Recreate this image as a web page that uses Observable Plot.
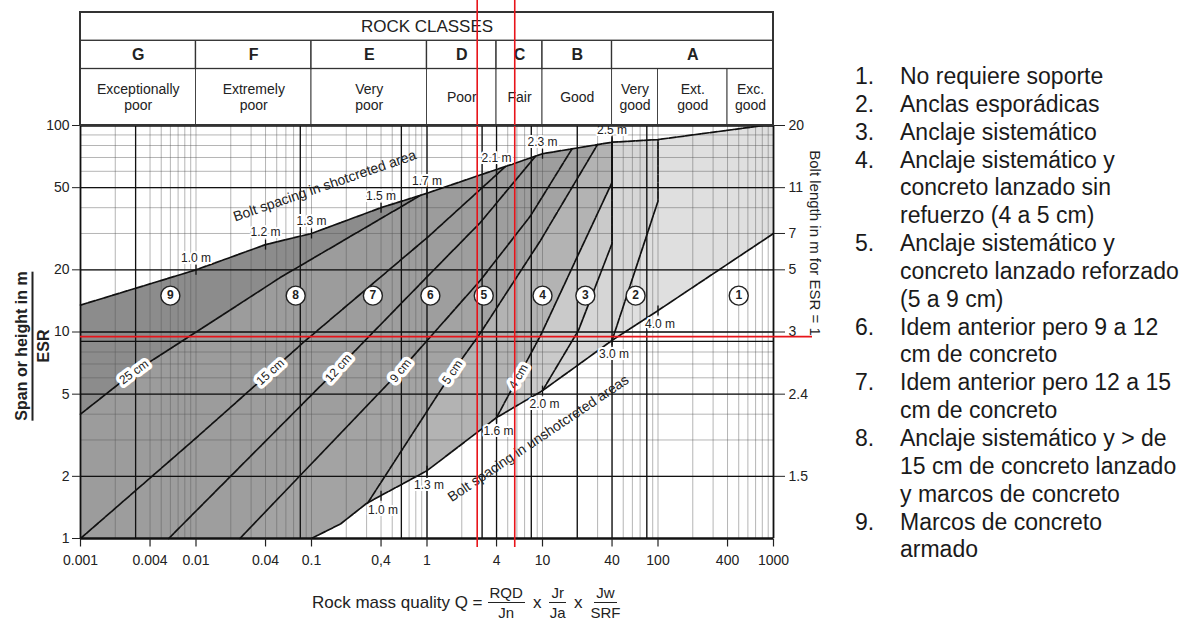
<!DOCTYPE html>
<html><head><meta charset="utf-8">
<script src="https://cdn.jsdelivr.net/npm/d3@7"></script>
<script src="https://cdn.jsdelivr.net/npm/@observablehq/plot@0.6"></script>
<style>
html,body{margin:0;padding:0;background:#fff;}
body{width:1192px;height:625px;position:relative;overflow:hidden;font-family:"Liberation Sans",Arial,sans-serif;color:#222;}
#main,#head{position:absolute;left:0;top:0;}
#ylab{position:absolute;left:32px;top:346px;transform:translate(-50%,-50%) rotate(-90deg);text-align:center;font-weight:bold;font-size:16px;line-height:19px;white-space:nowrap;color:#222;}
#ylab .n{border-bottom:2px solid #222;padding-bottom:1px;}
#y2lab{position:absolute;left:815px;top:243px;transform:translate(-50%,-50%) rotate(90deg);font-size:15px;white-space:nowrap;color:#222;}
#xlab{position:absolute;left:312px;top:583px;display:flex;align-items:center;font-family:"Liberation Sans Narrow","Arial Narrow","Liberation Sans",Arial,sans-serif;font-size:17px;color:#222;white-space:nowrap;}
#xlab .frac{display:inline-flex;flex-direction:column;align-items:center;margin:0 5px;font-size:15px;line-height:19px;}
#xlab .num{border-bottom:1.3px solid #222;padding:0 2px;}
#xlab .op{margin:0 3px;}
#legend{position:absolute;left:855px;top:63px;font-family:"Liberation Sans",Arial,sans-serif;font-size:23px;line-height:27.85px;color:#1a1a1a;}
#legend .it{position:relative;padding-left:45px;white-space:nowrap;}
#legend .k{position:absolute;left:0;top:0;}
</style></head>
<body>
<div id="main"></div>
<div id="head"></div>
<div id="ylab"><div class="n">Span or height in m</div><div>ESR</div></div>
<div id="y2lab">Bolt length in m for ESR = 1</div>
<div id="xlab"><span>Rock mass quality Q =</span><span class="frac"><span class="num">RQD</span><span>Jn</span></span><span class="op">x</span><span class="frac"><span class="num">Jr</span><span>Ja</span></span><span class="op">x</span><span class="frac"><span class="num">Jw</span><span>SRF</span></span></div>
<div id="legend"></div>
<script>
// ---------------- data ----------------
const qTicks = [0.001,0.004,0.01,0.04,0.1,0.4,1,4,10,40,100,400,1000];
const qTickLabels = ["0.001","0.004","0.01","0.04","0.1","0,4","1","4","10","40","100","400","1000"];
const spanTicks = [1,2,5,10,20,50,100];
const boltLenTicks = [100,50,30,20,10,5,2];
const boltLenLabels = ["20","11","7","5","3","2.4","1.5"];

const classBounds = [0.001,0.01,0.1,1,4,10,40,1000];
const classLetters = ["G","F","E","D","C","B","A"];
const qualityBounds = [0.001,0.01,0.1,1,4,10,40,100,400,1000];
const qualityNames = ["Exceptionally\npoor","Extremely\npoor","Very\npoor","Poor","Fair","Good","Very\ngood","Ext.\ngood","Exc.\ngood"];

// boundary lines [Q, span/ESR]
const topLine   = [[0.001,13.5],[0.01,20],[0.04,26.5],[0.1,30],[0.4,40],[1,47],[3,58],[5.5,65],[10,73],[40,83],[100,85.5],[820,100],[1000,100]];
const line25    = [[0.001,4.0],[0.0029,6.4],[0.0095,9.8],[0.054,18.4],[0.88,45.9]];
const line15    = [[0.001,1],[0.0099,3.05],[0.044,6.4],[0.085,8.9],[1.03,29],[4.8,63.4]];
const line12    = [[0.0058,1],[0.171,6.7],[1.03,18.8],[2.9,33.9],[8.7,71]];
const line9     = [[0.024,1],[0.59,6.5],[2.9,17.8],[7.9,36.6],[18,77]];
const line5     = [[0.305,1.48],[1.66,6.4],[2.8,9.6],[9.6,27.7],[30,81]];
const line4     = [[4,3.85],[9.6,9.6],[40,53]];
const line32    = [[10,5.2],[20.5,10.2],[40,26.8]];
const line21    = [[40,9.1],[100,43]];
const lowerLine = [[0.1,1],[0.18,1.18],[0.3,1.48],[1,2.13],[4,3.85],[10,5.2],[40,9.1],[100,12.7],[1000,30]];

const regionNames = ["1","2","3","4","5","6","7","8","9"];
const regionQ = [500,64,23.5,10,3.1,1.07,0.34,0.073,0.006];
const regionSpan = 15;

const thickLabels = ["25 cm","15 cm","12 cm","9 cm","5 cm","4 cm"];
const thickQ = [0.0029,0.044,0.171,0.59,1.66,6.2];
const thickSpan = [6.4,6.4,6.7,6.5,6.4,6.1];
const thickAngle = [-36,-42,-48,-52,-56,-60];

const shotLabels = ["1.0 m","1.2 m","1.3 m","1.5 m","1.7 m","2.1 m","2.3 m","2.5 m"];
const shotQ = [0.01,0.04,0.1,0.4,1,4,10,40];
const shotSpan = [20,26.5,30,40,47,61,73,83];
const unshotLabels = ["1.0 m","1.3 m","1.6 m","2.0 m","3.0 m","4.0 m"];
const unshotQ = [0.4,1,4,10,40,100];
const unshotSpan = [1.61,2.13,3.85,5.2,9.1,12.7];

const redQ = [2.72,5.75];
const redSpan = [9.5];

const blackQ = [0.003,0.08,0.6,1,3,4,8,20,40,80];
const blackSpan = [2,5,9,10,20,50];

const legendItems = [
  ["No requiere soporte"],
  ["Anclas esporádicas"],
  ["Anclaje sistemático"],
  ["Anclaje sistemático y","concreto lanzado sin","refuerzo (4 a 5 cm)"],
  ["Anclaje sistemático y","concreto lanzado reforzado","(5 a 9 cm)"],
  ["Idem anterior pero 9 a 12","cm de concreto"],
  ["Idem anterior pero 12 a 15","cm de concreto"],
  ["Anclaje sistemático y > de","15 cm de concreto lanzado","y marcos de concreto"],
  ["Marcos de concreto","armado"]
];

// ---------------- build ----------------
const FONT_N = '"Liberation Sans Narrow","Arial Narrow","Liberation Sans",Arial,sans-serif';
const P = a => a.map(([q,s]) => ({q, s}));
const topAt = q => topLine.find(d => d[0] === q);
function rightOf(b){
  const last = b[b.length-1][0];
  return P([...b, ...topLine.filter(d => d[0] > last), [1000,1], [b[0][0],1]]);
}
const regions = [
  {poly: P([...topLine,[1000,1],[0.001,1]]), color:"#8c8c8c"},
  {poly: rightOf(line25), color:"#9c9c9c"},
  {poly: rightOf(line15), color:"#9d9d9d"},
  {poly: rightOf(line12), color:"#9e9e9e"},
  {poly: rightOf(line9),  color:"#a3a3a3"},
  {poly: rightOf(line5),  color:"#b3b3b3"},
  {poly: rightOf([...line4, topAt(40)]),  color:"#cacaca"},
  {poly: rightOf([...line32, topAt(40)]), color:"#d6d6d6"},
  {poly: rightOf([...line21, topAt(100)]), color:"#dfdfdf"},
  {poly: P([...lowerLine,[1000,1]]), color:"#ffffff"}
];
const boundaries = [topLine,line25,line15,line12,line9,line5,[...line4,topAt(40)],[...line32,topAt(40)],[...line21,topAt(100)],lowerLine];

const minorQ = d3.range(-3,3).flatMap(k => d3.range(1,10).map(m => +(m*Math.pow(10,k)).toPrecision(3)));
const minorS = d3.range(0,2).flatMap(k => d3.range(1,10).map(m => m*Math.pow(10,k)));

const circles = regionNames.map((t,i)=>({t, q:regionQ[i], s:regionSpan}));
const thick = thickLabels.map((t,i)=>({t,q:thickQ[i],s:thickSpan[i],a:thickAngle[i]}));
const shot = shotLabels.map((t,i)=>({t,q:shotQ[i],s:shotSpan[i]}));
const unshot = unshotLabels.map((t,i)=>({t,q:unshotQ[i],s:unshotSpan[i]}));
const vtick = {draw(ctx,size){const r=Math.sqrt(size/Math.PI);ctx.moveTo(0,-r);ctx.lineTo(0,r);}};
const xTicks = qTicks.map((v,i)=>({v, t:qTickLabels[i]}));
const bLab = new Map(boltLenTicks.map((v,i)=>[v,boltLenLabels[i]]));
const yMin = 1;

const main = Plot.plot({
  width: 840, height: 580,
  marginLeft: 80, marginRight: 67, marginTop: 125, marginBottom: 42,
  x: {type:"log", domain:[0.001,1000], label:null, axis:null},
  y: {type:"log", domain:[1,100], label:null},
  style: {fontFamily: FONT_N, fontSize:"14px", background:"transparent", color:"#222", overflow:"visible"},
  marks: [
    ...regions.map(r => Plot.line(r.poly, {x:"q", y:"s", fill:r.color, stroke:"none"})),
    Plot.ruleX(minorQ, {stroke:"#555", strokeOpacity:0.55, strokeWidth:0.8}),
    Plot.ruleY(minorS, {stroke:"#555", strokeOpacity:0.55, strokeWidth:0.8}),
    Plot.ruleX(blackQ, {stroke:"#111", strokeWidth:1.3}),
    Plot.ruleY(blackSpan, {stroke:"#111", strokeWidth:1.3}),
    ...boundaries.map(b => Plot.line(P(b), {x:"q", y:"s", stroke:"#111", strokeWidth:1.7, strokeDasharray:"7,1.3"})),
    Plot.dot(shot, {x:"q", y:"s", symbol:vtick, r:5, stroke:"#111", fill:"none", strokeWidth:1.3}),
    Plot.dot(unshot, {x:"q", y:"s", symbol:vtick, r:5, stroke:"#111", fill:"none", strokeWidth:1.3}),
    Plot.text(shot, {x:"q", y:"s", text:"t", dy:-12, fontSize:12, fill:"#222", stroke:"white", strokeWidth:4}),
    Plot.text(unshot, {x:"q", y:"s", text:"t", dy:14, dx:2, fontSize:12, fill:"#222", stroke:"white", strokeWidth:4}),
    Plot.text(thick, {x:"q", y:"s", text:"t", rotate:"a", fontSize:12, fill:"#222", stroke:"white", strokeWidth:7}),
    Plot.text(["Bolt spacing in shotcreted area"], {x:0.13, y:51, text:d=>d, rotate:-19, fontSize:14, fill:"#222"}),
    Plot.text(["Bolt spacing in unshotcreted areas"], {x:9.2, y:3.05, text:d=>d, rotate:-34, fontSize:14, fill:"#222"}),
    Plot.dot(circles, {x:"q", y:"s", r:9.5, fill:"white", stroke:"#222", strokeWidth:1.4}),
    Plot.text(circles, {x:"q", y:"s", text:"t", fontSize:12, fontWeight:"bold", fill:"#222"}),
    Plot.ruleY([1,100], {stroke:"#111", strokeWidth:2.6}),
    Plot.ruleX([0.001,1000], {stroke:"#111", strokeWidth:1.8}),
    // bottom axis: ticks and labels
    Plot.dot(xTicks, {x:"v", y:yMin, symbol:vtick, r:4, dy:4, stroke:"#222", fill:"none", strokeWidth:1.2}),
    Plot.text(xTicks, {x:"v", y:yMin, text:"t", dy:22, fontSize:14, fill:"#222"}),
    // left and right axes
    Plot.axisY(spanTicks, {anchor:"left", tickFormat:d=>String(d), tickSize:8, tickPadding:3, fontSize:14, label:null, color:"#222"}),
    Plot.axisY(boltLenTicks, {anchor:"right", tickFormat:d=>bLab.get(d), tickSize:11, tickPadding:4, fontSize:14, label:null, color:"#222"}),
    Plot.ruleX(redQ, {stroke:"#e8141a", strokeWidth:1.6, insetBottom:-9}),
    Plot.ruleY(redSpan, {stroke:"#e8141a", strokeWidth:1.6, insetRight:-39})
  ]
});
document.getElementById("main").append(main);

const classCells = classLetters.map((l,i)=>({x1:classBounds[i], x2:classBounds[i+1], label:l}));
const qualityCells = qualityNames.map((n,i)=>({x1:qualityBounds[i], x2:qualityBounds[i+1], label:n}));
const gm = d => Math.sqrt(d.x1*d.x2);
const head = Plot.plot({
  width: 840, height: 125,
  marginLeft: 80, marginRight: 67, marginTop: 12, marginBottom: 0,
  x: {type:"log", domain:[0.001,1000], axis:null},
  y: {domain:[0,4], axis:null},
  style: {fontFamily: FONT_N, background:"transparent", color:"#222", overflow:"visible"},
  marks: [
    Plot.rect(qualityCells, {x1:"x1", x2:"x2", y1:0, y2:2, fill:"white", stroke:"#444", strokeWidth:1}),
    Plot.rect(classCells, {x1:"x1", x2:"x2", y1:2, y2:3, fill:"white", stroke:"#333", strokeWidth:1.3}),
    Plot.rect(["ROCK CLASSES"], {x1:classBounds[0], x2:classBounds[classBounds.length-1], y1:3, y2:4, fill:"white", stroke:"#333", strokeWidth:1.3}),
    Plot.rect(["frame"], {x1:classBounds[0], x2:classBounds[classBounds.length-1], y1:0, y2:4, fill:"none", stroke:"#333", strokeWidth:2}),
    Plot.text(["ROCK CLASSES"], {x:Math.sqrt(classBounds[0]*classBounds[classBounds.length-1]), y:3.5, text:d=>d, fontSize:17}),
    Plot.text(classCells, {x:gm, y:2.5, text:"label", fontSize:16, fontWeight:"bold"}),
    Plot.text(qualityCells, {x:gm, y:1, text:"label", fontSize:14, lineHeight:1.15}),
    Plot.ruleX(redQ, {stroke:"#e8141a", strokeWidth:1.6, insetTop:-12})
  ]
});
document.getElementById("head").append(head);

const lg = document.getElementById("legend");
legendItems.forEach((lines,i)=>{
  const d = document.createElement("div"); d.className="it";
  const k = document.createElement("span"); k.className="k"; k.textContent=(i+1)+".";
  d.append(k);
  lines.forEach((t,j)=>{ if(j) d.append(document.createElement("br")); d.append(document.createTextNode(t)); });
  lg.append(d);
});
</script>
</body></html>
